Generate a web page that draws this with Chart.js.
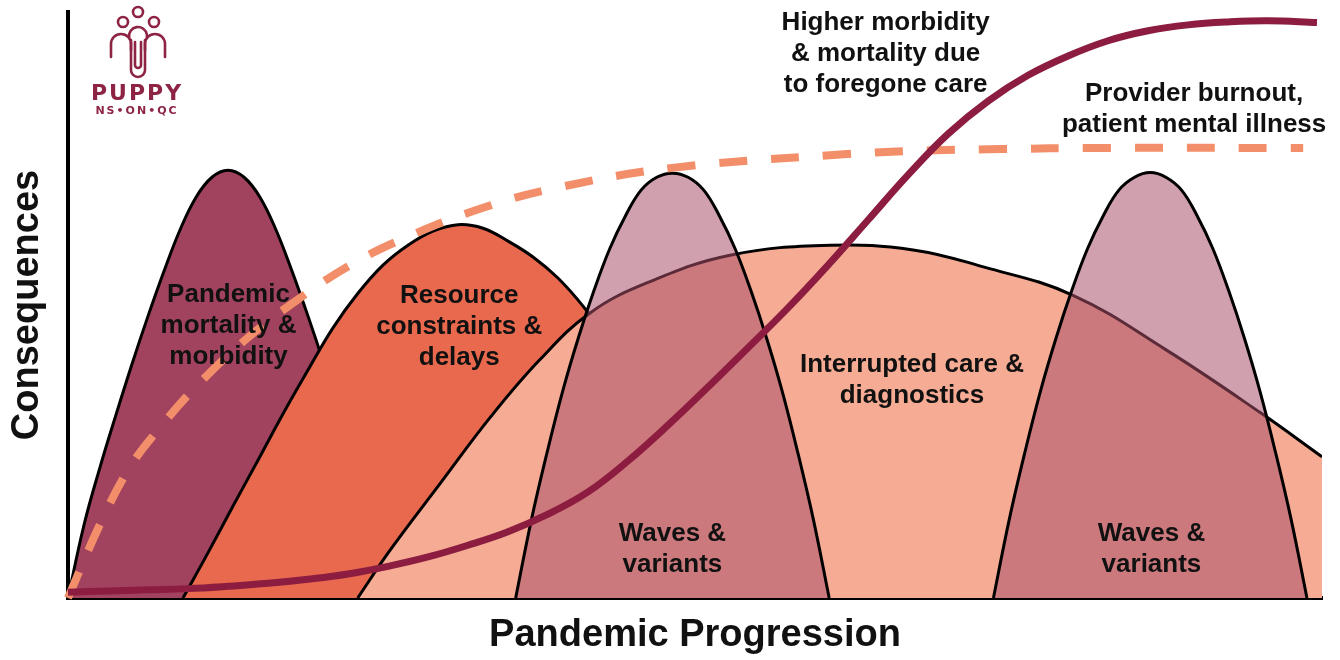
<!DOCTYPE html>
<html>
<head>
<meta charset="utf-8">
<title>Pandemic Progression</title>
<script src="https://cdn.jsdelivr.net/npm/chart.js@4.4.0/dist/chart.umd.min.js"></script>
<style>
  html, body { margin: 0; padding: 0; background: #fff; }
  canvas { display: block; }
</style>
</head>
<body>
<canvas id="myChart" width="1340" height="660"></canvas>
<script>
// x = pandemic progression (0-100), y = consequences (0-100)

const mortalityX = [0, 1.28, 2.55, 3.83, 5.10, 6.38, 7.66, 8.93, 10.21, 11.48, 12.76, 14.04, 15.31, 16.59, 17.86, 19.14, 20.42, 21.69, 22.97, 24.24, 25.52];
const mortalityY = [0, 12.5, 22.3, 31.3, 39.9, 48.1, 55.8, 62.8, 68.4, 71.8, 73.0, 71.8, 68.4, 62.8, 55.8, 48.1, 39.9, 31.3, 22.3, 12.5, 0];

const resourceX = [9.17, 11.16, 13.16, 15.15, 17.14, 19.14, 21.13, 23.12, 25.12, 27.11, 29.11, 31.10, 33.09, 35.09, 37.08, 39.07, 41.07, 43.06, 45.05, 47.05, 49.04, 51.03, 53.03];
const resourceY = [0, 7.7, 15.7, 23.5, 31.4, 38.9, 46.1, 52.0, 56.8, 60.2, 62.6, 63.7, 63.1, 60.9, 58.2, 54.6, 49.8, 44.0, 36.7, 28.2, 19.1, 9.7, 0];

const careX = [23.1, 25.7, 29.7, 33.7, 37.6, 41.6, 46.2, 52.8, 60.8, 67.4, 73.0, 80.1, 87.6, 95.1, 100];
const careY = [0, 8.2, 19.6, 30.9, 40.6, 48.6, 53.8, 58.5, 60.2, 59.4, 56.5, 51.7, 42.3, 31.6, 24.1];

const wave1X = [35.70, 36.95, 38.20, 39.45, 40.70, 41.95, 43.20, 44.45, 45.70, 46.95, 48.20, 49.45, 50.70, 51.95, 53.20, 54.45, 55.70, 56.95, 58.20, 59.45, 60.70];
const wave1Y = [0, 13.3, 24.8, 35.3, 44.4, 52.5, 59.6, 65.2, 69.6, 71.8, 72.5, 71.8, 69.6, 65.2, 59.6, 52.5, 44.4, 35.3, 24.8, 13.3, 0];

const wave2X = [73.80, 75.05, 76.30, 77.55, 78.80, 80.05, 81.30, 82.55, 83.80, 85.05, 86.30, 87.55, 88.80, 90.05, 91.30, 92.55, 93.80, 95.05, 96.30, 97.55, 98.80];
const wave2Y = [0, 13.3, 24.8, 35.3, 44.4, 52.5, 59.6, 65.2, 69.6, 71.8, 72.6, 71.8, 69.6, 65.2, 59.6, 52.5, 44.4, 35.3, 24.8, 13.3, 0];

const foregoneX = [0, 3.19, 6.38, 9.57, 12.76, 15.95, 19.14, 22.33, 25.52, 28.71, 31.90, 35.09, 38.28, 41.47, 44.66, 47.85, 51.04, 54.23, 57.42, 60.61, 63.80, 66.99, 70.18, 73.37, 76.56, 79.75, 82.94, 86.13, 89.32, 92.51, 95.70, 99.60];
const foregoneY = [1.0, 1.2, 1.4, 1.6, 2.0, 2.5, 3.2, 4.1, 5.4, 7.0, 9.0, 11.3, 14.3, 18.1, 23.4, 29.5, 36.0, 42.7, 49.5, 56.8, 64.5, 72.2, 79.2, 84.8, 89.2, 92.5, 95.1, 96.8, 97.8, 98.3, 98.5, 98.2];

const burnoutX = [0, 2.6, 4.9, 7.3, 10.5, 14.5, 18.5, 22.5, 26.5, 33.1, 39.2, 48.2, 61.0, 67.5, 74.3, 82.3, 98.5];
const burnoutY = [0, 12.8, 22.2, 29.0, 36.7, 44.7, 51.2, 56.8, 61.1, 66.6, 70.1, 73.4, 75.6, 76.3, 76.6, 76.8, 76.8];

// text placed on the plot (x, y in data units, centre of the block)
const notes = [
    { lines: ['Pandemic', 'mortality &', 'morbidity'], x: 12.8, y: 46.5 },
    { lines: ['Resource', 'constraints &', 'delays'], x: 31.2, y: 46.3 },
    { lines: ['Interrupted care &', 'diagnostics'], x: 67.3, y: 37.1 },
    { lines: ['Waves &', 'variants'], x: 48.2, y: 8.3 },
    { lines: ['Waves &', 'variants'], x: 86.4, y: 8.3 },
    { lines: ['Higher morbidity', '& mortality due', 'to foregone care'], x: 65.2, y: 92.8 },
    { lines: ['Provider burnout,', 'patient mental illness'], x: 89.8, y: 83.4 }
];

function pts(xs, ys) {
    return xs.map((x, i) => ({ x: x, y: ys[i] }));
}

function area(label, xs, ys, color, order) {
    return {
        label: label,
        data: pts(xs, ys),
        backgroundColor: color,
        borderColor: '#000',
        borderWidth: 3,
        borderJoinStyle: 'round',
        fill: 'origin',
        order: order
    };
}

const notesPlugin = {
    id: 'notes',
    afterDatasetsDraw(chart) {
        const { ctx, scales: { x, y } } = chart;
        ctx.save();
        ctx.fillStyle = '#111';
        ctx.font = 'bold 26px "Liberation Sans", Arial, sans-serif';
        ctx.textAlign = 'center';
        ctx.textBaseline = 'middle';
        notes.forEach(n => {
            const cx = x.getPixelForValue(n.x);
            const cy = y.getPixelForValue(n.y);
            const top = cy - (n.lines.length - 1) * 31 / 2;
            n.lines.forEach((t, i) => ctx.fillText(t, cx, top + i * 31));
        });
        ctx.restore();
    }
};

const logoPlugin = {
    id: 'logo',
    afterDraw(chart) {
        const ctx = chart.ctx;
        const c = '#8E2444';
        ctx.save();
        ctx.strokeStyle = c;
        ctx.lineWidth = 2.6;
        ctx.lineCap = 'round';
        [[138, 12], [123, 22], [154, 22]].forEach(([hx, hy]) => {
            ctx.beginPath();
            ctx.arc(hx, hy, 5, 0, Math.PI * 2);
            ctx.stroke();
        });
        // left and right figures
        ctx.beginPath();
        ctx.moveTo(111, 57);
        ctx.lineTo(111, 44);
        ctx.arc(121, 44, 10, Math.PI, Math.PI * 2);
        ctx.lineTo(131, 50);
        ctx.stroke();
        ctx.beginPath();
        ctx.moveTo(165, 57);
        ctx.lineTo(165, 44);
        ctx.arc(155, 44, 10, 0, Math.PI, true);
        ctx.lineTo(145, 50);
        ctx.stroke();
        // centre figure, paperclip loop
        ctx.beginPath();
        ctx.arc(138, 36, 9, Math.PI * 0.95, Math.PI * 2.05);
        ctx.stroke();
        ctx.beginPath();
        ctx.moveTo(131, 40);
        ctx.lineTo(131, 70);
        ctx.arc(138, 70, 7, Math.PI, 0, true);
        ctx.lineTo(145, 40);
        ctx.stroke();
        ctx.beginPath();
        ctx.moveTo(135, 42);
        ctx.lineTo(135, 65);
        ctx.arc(138, 65, 3, Math.PI, 0, true);
        ctx.lineTo(141, 42);
        ctx.stroke();

        ctx.fillStyle = c;
        ctx.textAlign = 'center';
        ctx.textBaseline = 'middle';
        ctx.font = 'bold 22px "DejaVu Sans", sans-serif';
        ctx.letterSpacing = '2px';
        ctx.fillText('PUPPY', 137, 94);
        ctx.font = 'bold 11px "DejaVu Sans", sans-serif';
        ctx.letterSpacing = '2px';
        ctx.fillText('NS\u2022ON\u2022QC', 137, 111);
        ctx.restore();
    }
};

const ctx = document.getElementById('myChart');
new Chart(ctx, {
    type: 'line',
    data: {
        datasets: [
            {
                label: 'Higher morbidity & mortality due to foregone care',
                data: pts(foregoneX, foregoneY),
                borderColor: '#8C1D40',
                borderWidth: 7,
                fill: false,
                clip: false,
                order: 0
            },
            {
                label: 'Provider burnout, patient mental illness',
                data: pts(burnoutX, burnoutY),
                borderColor: '#F28E69',
                borderWidth: 8,
                borderDash: [28, 24],
                fill: false,
                clip: false,
                order: 1
            },
            area('Waves & variants 2', wave2X, wave2Y, 'rgba(168,79,105,0.54)', 2),
            area('Waves & variants 1', wave1X, wave1Y, 'rgba(168,79,105,0.54)', 3),
            area('Interrupted care & diagnostics', careX, careY, '#F6AB94', 4),
            area('Resource constraints & delays', resourceX, resourceY, '#E9694F', 5),
            area('Pandemic mortality & morbidity', mortalityX, mortalityY, '#A1435F', 6)
        ]
    },
    options: {
        responsive: false,
        animation: false,
        layout: { padding: { top: 12, right: 18, left: 0, bottom: 0 } },
        elements: {
            point: { radius: 0, hoverRadius: 0 },
            line: { tension: 0.4 }
        },
        plugins: {
            legend: { display: false },
            tooltip: { enabled: false }
        },
        scales: {
            x: {
                type: 'linear',
                min: 0,
                max: 100,
                z: 1,
                ticks: { display: false },
                grid: { display: false },
                border: { display: true, color: '#000', width: 4 },
                title: {
                    display: true,
                    text: 'Pandemic Progression',
                    color: '#111',
                    font: { family: '"Liberation Sans", Arial, sans-serif', size: 38, weight: 'bold' },
                    padding: { top: 0, bottom: 2 }
                },
                afterFit(scale) { scale.height = 62; }
            },
            y: {
                min: 0,
                max: 100,
                z: 1,
                ticks: { display: false },
                grid: { display: false },
                border: { display: true, color: '#000', width: 4 },
                title: {
                    display: true,
                    text: 'Consequences',
                    color: '#111',
                    font: { family: '"Liberation Sans", Arial, sans-serif', size: 38, weight: 'bold' },
                    padding: { top: 5, bottom: 0 }
                },
                afterFit(scale) { scale.width = 68; }
            }
        }
    },
    plugins: [notesPlugin, logoPlugin]
});
</script>
</body>
</html>
